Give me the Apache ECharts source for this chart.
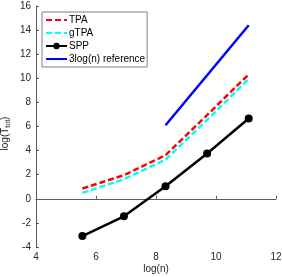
<!DOCTYPE html>
<html><head><meta charset="utf-8">
<script src="https://cdn.jsdelivr.net/npm/echarts@6/dist/echarts.min.js"></script>
<style>html,body{margin:0;padding:0;background:#fff}#c{width:282px;height:277px}</style>
</head><body><div id="c"></div>
<script>
const logN = [5.545, 6.931, 8.318, 9.704, 11.090];
const tpa  = [0.85, 1.96, 3.62, 6.95, 10.33];
const gtpa = [0.49, 1.62, 3.25, 6.55, 9.94];
const spp  = [-3.09, -1.45, 1.04, 3.76, 6.67];
const refX = [8.318, 11.090];
const refY = [6.10, 14.40];
const xTicks = [4, 6, 8, 10, 12];
const yTicks = [-4, -2, 0, 2, 4, 6, 8, 10, 12, 14, 16];

const FONT = 'Liberation Sans, Arial, sans-serif';
const chart = echarts.init(document.getElementById('c'), null, {renderer: 'canvas'});
const pairs = (xs, ys) => xs.map((x, i) => [x, ys[i]]);
const axisCommon = {
  axisLine: {show: true, lineStyle: {color: '#5a5a5a', width: 1}},
  axisTick: {show: true, inside: true, length: 3, lineStyle: {color: '#5a5a5a'}},
  splitLine: {show: false}
};
chart.setOption({
  animation: false,
  grid: {left: 36, right: 6, top: 6, bottom: 30, containLabel: false, outerBoundsMode: 'none'},
  legend: {
    orient: 'vertical', left: 42, top: 12,
    data: [
      {name: 'TPA', itemStyle: {opacity: 0}},
      {name: 'gTPA', itemStyle: {opacity: 0}},
      {name: 'SPP'},
      {name: '3log(n) reference', itemStyle: {opacity: 0}}
    ],
    itemWidth: 21, itemHeight: 8, itemGap: 3,
    padding: [3, 2, 3, 3],
    borderColor: '#808080', borderWidth: 1,
    backgroundColor: '#fff',
    textStyle: {fontSize: 10, fontFamily: FONT, color: '#000', padding: [0, 0, 0, -3]}
  },
  xAxis: Object.assign({
    type: 'value', min: xTicks[0], max: xTicks[xTicks.length - 1], interval: 2,
    name: 'log(n)', nameLocation: 'middle', nameGap: 17, nameMoveOverlap: false,
    nameTextStyle: {fontSize: 10, fontFamily: FONT, color: '#262626'},
    axisLabel: {color: '#262626', fontSize: 10, fontFamily: FONT, margin: 5}
  }, axisCommon),
  yAxis: Object.assign({
    type: 'value', min: yTicks[0], max: yTicks[yTicks.length - 1], interval: 2,
    name: 'log(T{s|tot})', nameLocation: 'middle', nameGap: 24, nameRotate: 90, nameMoveOverlap: false,
    nameTextStyle: {fontSize: 10, fontFamily: FONT, color: '#262626', padding: [0, 14, 0, 0],
      rich: {s: {fontSize: 7, fontFamily: FONT, color: '#262626', verticalAlign: 'bottom', padding: [6, 0, 0, 0]}}},
    axisLabel: {color: '#262626', fontSize: 10, fontFamily: FONT, margin: 5}
  }, axisCommon),
  series: [
    {name: 'TPA', type: 'line', data: pairs(logN, tpa), showSymbol: false, symbol: 'none',
     lineStyle: {color: '#ff0000', width: 2.5, type: [6, 3]}, itemStyle: {color: '#ff0000'}, z: 3},
    {name: 'gTPA', type: 'line', data: pairs(logN, gtpa), showSymbol: false, symbol: 'none',
     lineStyle: {color: '#00ffff', width: 2.5, type: [6, 3]}, itemStyle: {color: '#00ffff'}, z: 2},
    {name: 'SPP', type: 'line', data: pairs(logN, spp), symbol: 'circle', symbolSize: 8,
     lineStyle: {color: '#000', width: 2.5}, itemStyle: {color: '#000'}},
    {name: '3log(n) reference', type: 'line', data: pairs(refX, refY), showSymbol: false, symbol: 'none',
     lineStyle: {color: '#0000ff', width: 2.5}, itemStyle: {color: '#0000ff'}}
  ]
});
</script></body></html>
